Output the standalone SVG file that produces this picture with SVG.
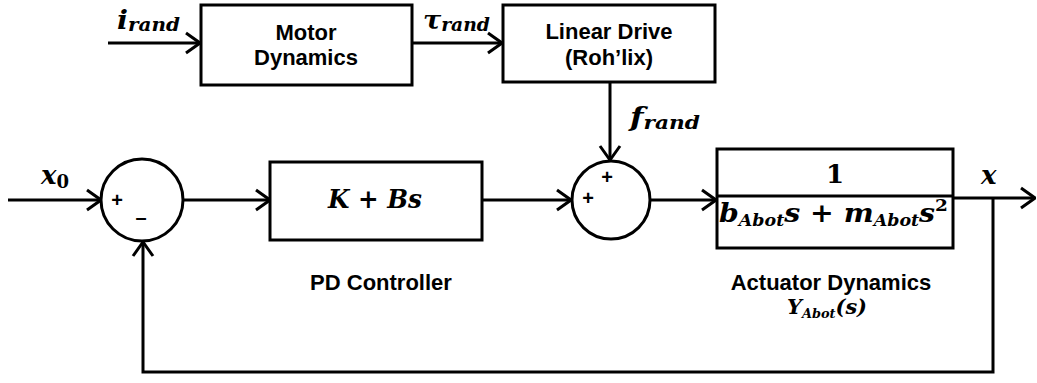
<svg xmlns="http://www.w3.org/2000/svg" width="1037" height="383" viewBox="0 0 1037 383">
<defs>
<marker id="arr" viewBox="0 0 16 24" refX="15" refY="12" markerWidth="16" markerHeight="24" markerUnits="userSpaceOnUse" orient="auto">
<path d="M1,2 L15,12 L1,22" fill="none" stroke="#000" stroke-width="3" stroke-linejoin="miter"/>
</marker>
<style>
.box{fill:#fff;stroke:#000;stroke-width:3}
.sum{fill:#fff;stroke:#000;stroke-width:3}
.ln{fill:none;stroke:#000;stroke-width:3}
.lbl{font-family:"Liberation Sans",Arial,sans-serif;font-weight:bold;font-size:22px;fill:#000;text-anchor:middle}
.sg{font-family:"Liberation Sans",Arial,sans-serif;font-weight:bold;font-size:20px;fill:#000;text-anchor:middle}
.m{font-family:"DejaVu Serif","Liberation Serif",serif;font-weight:bold;font-style:italic;font-size:26px;fill:#000}
.s{font-size:18px}
.up{font-style:normal}
</style>
</defs>
<rect width="1037" height="383" fill="#fff"/>
<g id="connectors">
<path class="ln" d="M108,43 H200" marker-end="url(#arr)"/>
<path class="ln" d="M413,43 H502" marker-end="url(#arr)"/>
<path class="ln" d="M610,82 V160" marker-end="url(#arr)"/>
<path class="ln" d="M8,200 H101" marker-end="url(#arr)"/>
<path class="ln" d="M183,200 H270" marker-end="url(#arr)"/>
<path class="ln" d="M482,200 H571" marker-end="url(#arr)"/>
<path class="ln" d="M650,200 H716" marker-end="url(#arr)"/>
<path class="ln" d="M953,198 H1035" marker-end="url(#arr)"/>
<path class="ln" d="M993,198 V372 H143 V242" marker-end="url(#arr)"/>
</g>
<g id="motor">
<rect class="box" x="201" y="5" width="211" height="80"/>
<text class="lbl" x="306" y="40">Motor</text>
<text class="lbl" x="306" y="65">Dynamics</text>
</g>
<g id="linear-drive">
<rect class="box" x="503" y="5" width="212" height="77"/>
<text class="lbl" x="609" y="39">Linear Drive</text>
<text class="lbl" x="609" y="65">(Roh’lix)</text>
</g>
<g id="sum1">
<circle class="sum" cx="142" cy="200" r="41"/>
<text class="sg" x="117" y="207">+</text>
<text class="sg" x="141" y="224">–</text>
</g>
<g id="pd">
<rect class="box" x="270" y="162" width="212" height="78"/>
<text class="m" x="375" y="208" text-anchor="middle" textLength="94" lengthAdjust="spacingAndGlyphs">K + Bs</text>
<text class="lbl" x="381" y="290">PD Controller</text>
</g>
<g id="sum2">
<circle class="sum" cx="611" cy="200" r="39"/>
<text class="sg" x="607" y="184">+</text>
<text class="sg" x="588" y="205">+</text>
</g>
<g id="actuator">
<rect class="box" x="717" y="149" width="236" height="99"/>
<line class="ln" x1="717" y1="196" x2="953" y2="196"/>
<text class="m up" x="835" y="183" text-anchor="middle">1</text>
<text class="m" x="719" y="222" textLength="229" lengthAdjust="spacingAndGlyphs">b<tspan style="font-size:16px" dy="4">Abot</tspan><tspan dy="-4">s + m</tspan><tspan style="font-size:16px" dy="4">Abot</tspan><tspan dy="-4">s</tspan><tspan class="up" style="font-size:17px" dy="-11">2</tspan></text>
<text class="lbl" x="831" y="290">Actuator Dynamics</text>
<text class="m" x="787" y="314" style="font-size:21px" textLength="80" lengthAdjust="spacingAndGlyphs">Y<tspan style="font-size:13px" dy="4">Abot</tspan><tspan dy="-4">(s)</tspan></text>
</g>
<g id="labels">
<text class="m" x="117" y="29" textLength="63" lengthAdjust="spacingAndGlyphs">i<tspan class="s" dy="2">rand</tspan></text>
<text class="m" x="423" y="29" textLength="67" lengthAdjust="spacingAndGlyphs">τ<tspan class="s" dy="2">rand</tspan></text>
<text class="m" x="630" y="126" textLength="70" lengthAdjust="spacingAndGlyphs">f<tspan class="s" dy="3">rand</tspan></text>
<text class="m" x="41" y="184">x<tspan class="s up" dy="4">0</tspan></text>
<text class="m" x="981" y="184">x</text>
</g>
</svg>
